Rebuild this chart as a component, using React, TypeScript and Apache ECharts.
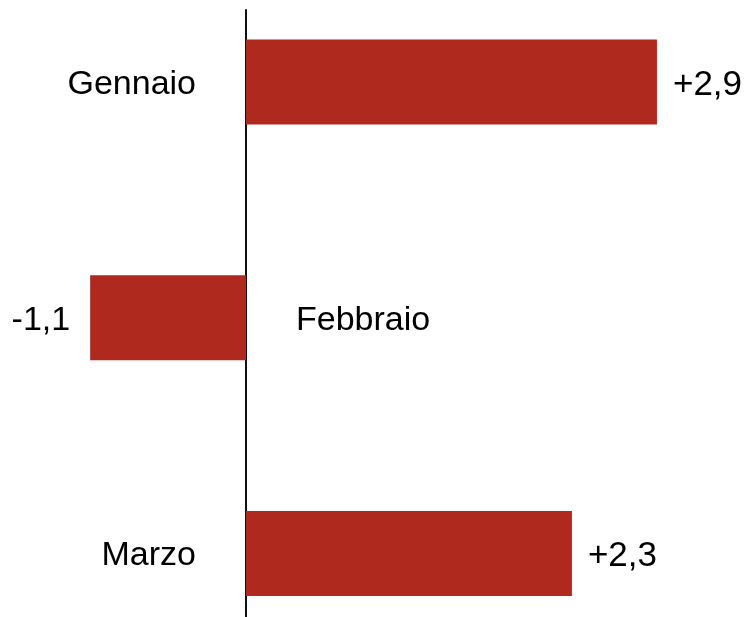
import React, { useEffect, useRef } from "react";
import * as echarts from "echarts";

const categories = ["Gennaio", "Febbraio", "Marzo"];
const values = [2.9, -1.1, 2.3];
const xMin = -1.6;
const xMax = 3.4;

const BAR_COLOR = "#B0291F";
const FONT = 'Arial, "Liberation Sans", Helvetica, sans-serif';
const OFFSET = 50;

const fmtValue = (v: number) =>
  (v > 0 ? "+" : "") + v.toFixed(1).replace(".", ",");

export default function App() {
  const ref = useRef<HTMLDivElement>(null);
  useEffect(() => {
    if (!ref.current) return;
    const chart = echarts.init(ref.current, undefined, { renderer: "svg" });
    const gridLR = { left: 19.3, right: 22.2 };
    chart.setOption({
      animation: false,
      grid: [
        { ...gridLR, top: -35.85 + OFFSET, height: 707.1 },
        { ...gridLR, top: 10 + OFFSET, bottom: 0 },
      ],
      xAxis: [
        { type: "value", gridIndex: 0, min: xMin, max: xMax, show: false },
        { type: "value", gridIndex: 1, min: xMin, max: xMax, show: false },
      ],
      yAxis: [
        {
          type: "category",
          gridIndex: 0,
          inverse: true,
          data: categories,
          show: false,
        },
        {
          type: "value",
          gridIndex: 1,
          min: 0,
          max: 1,
          axisLine: {
            show: true,
            onZero: true,
            lineStyle: { color: "#111111", width: 2 },
          },
          axisTick: { show: false },
          axisLabel: { show: false },
          splitLine: { show: false },
        },
      ],
      series: [
        {
          type: "bar",
          xAxisIndex: 0,
          yAxisIndex: 0,
          barWidth: 85,
          barGap: "-100%",
          itemStyle: { color: BAR_COLOR },
          data: values.map((v) => ({
            value: v,
            label: {
              show: true,
              position: v >= 0 ? "right" : "left",
              distance: v >= 0 ? 16 : 20,
              formatter: () => fmtValue(v),
              color: "#000",
              fontSize: v >= 0 ? 35 : 34,
              fontFamily: FONT,
            },
          })),
          z: 2,
        },
        {
          type: "bar",
          xAxisIndex: 0,
          yAxisIndex: 0,
          barWidth: 85,
          barGap: "-100%",
          silent: true,
          itemStyle: { color: "rgba(0,0,0,0)" },
          data: values.map((v) => ({
            value: v,
            label: {
              show: true,
              position: v >= 0 ? "left" : "right",
              distance: 50,
              formatter: "{b}",
              color: "#000",
              fontSize: 34,
              fontFamily: FONT,
            },
          })),
          z: 1,
        },
      ],
    });
    return () => chart.dispose();
  }, []);
  return (
    <div
      ref={ref}
      style={{
        position: "fixed",
        left: 0,
        top: -OFFSET,
        width: 750,
        height: 617 + 2 * OFFSET + 33,
      }}
    />
  );
}
